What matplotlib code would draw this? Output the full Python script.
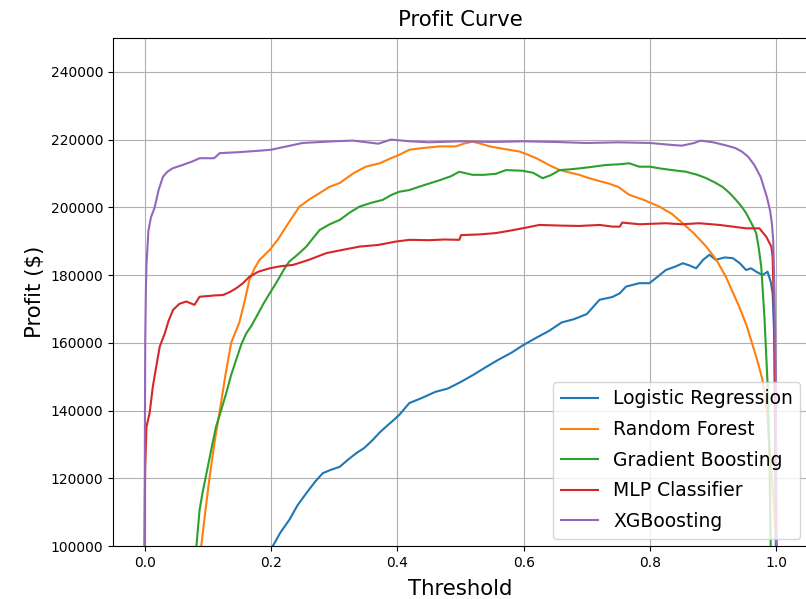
import matplotlib
matplotlib.use("Agg")
import matplotlib.pyplot as plt

# Logistic Regression
lr_x = [0.203, 0.215, 0.229, 0.242, 0.256, 0.27, 0.282, 0.295, 0.309, 0.322, 0.335, 0.348, 0.361, 0.372, 0.382, 0.393, 0.403, 0.419,
        0.44, 0.46, 0.48, 0.5, 0.52, 0.54, 0.56, 0.58, 0.6, 0.62, 0.64, 0.66, 0.68, 0.7, 0.72, 0.74, 0.752, 0.762,
        0.783, 0.799, 0.812, 0.825, 0.84, 0.852, 0.863, 0.873, 0.884, 0.894, 0.904, 0.918, 0.931, 0.942, 0.952, 0.96,
        0.968, 0.978, 0.986, 0.991, 0.994, 0.997, 0.999]
lr_y = [100000, 104000, 107700, 112000, 115600, 119000, 121500, 122500, 123400, 125500, 127400, 129000, 131300, 133500, 135200, 137000, 138700, 142200,
        143800, 145500, 146500, 148400, 150500, 152800, 155000, 157000, 159400, 161500, 163500, 166000, 167000, 168500, 172700, 173500, 174600, 176600,
        177600, 177600, 179500, 181500, 182500, 183500, 182800, 182000, 184500, 186000, 184500, 185200, 185000, 183500, 181500, 182000,
        181000, 180000, 181000, 178000, 174600, 160000, 100000]

# Random Forest
rf_x = [0.0897, 0.096, 0.103, 0.111, 0.119, 0.128, 0.137, 0.150, 0.158, 0.166, 0.174, 0.182, 0.198, 0.211, 0.224, 0.245, 0.262, 0.277, 0.292,
        0.309, 0.33, 0.35, 0.372, 0.39, 0.403, 0.419, 0.44, 0.467, 0.493, 0.505, 0.519, 0.532, 0.546, 0.57, 0.593, 0.607, 0.62,
        0.64, 0.657, 0.672, 0.688, 0.702, 0.715, 0.735, 0.75, 0.767, 0.79, 0.815, 0.835, 0.851, 0.87, 0.889, 0.905, 0.92,
        0.941, 0.953, 0.963, 0.971, 0.978, 0.985, 0.993, 1.0]
rf_y = [100000, 110000, 120500, 131000, 140000, 150500, 160000, 166000, 172000, 178600, 182000, 184500, 187400, 190500, 194300, 200200, 202500, 204200, 206000,
        207200, 210000, 212000, 213000, 214500, 215500, 217000, 217500, 218000, 218000, 218800, 219400, 218800, 218000, 217200, 216500, 215500, 214500,
        212500, 211000, 210300, 209600, 208700, 208000, 207000, 206000, 203700, 202200, 200200, 198000, 195400, 192200, 188400, 184500, 179500,
        170700, 165000, 158900, 154000, 149000, 140000, 120000, 100000]

# Gradient Boosting
gb_x = [0.082, 0.087, 0.092, 0.098, 0.105, 0.113, 0.121, 0.129, 0.137, 0.145, 0.153, 0.161, 0.169, 0.177, 0.188, 0.198, 0.206, 0.214, 0.221, 0.229,
        0.242, 0.256, 0.267, 0.277, 0.293, 0.309, 0.325, 0.34, 0.358, 0.377, 0.39, 0.403, 0.419, 0.443, 0.467, 0.485, 0.498, 0.519,
        0.537, 0.556, 0.572, 0.598, 0.615, 0.63, 0.643, 0.657, 0.672, 0.688, 0.71, 0.73, 0.75, 0.767, 0.783, 0.8, 0.815, 0.835,
        0.857, 0.875, 0.889, 0.903, 0.915, 0.926, 0.936, 0.945, 0.952, 0.96, 0.968, 0.972, 0.976, 0.981, 0.986, 0.989, 0.991]
gb_y = [100000, 110600, 116000, 121500, 128000, 135200, 140000, 145000, 150500, 155000, 159500, 162800, 165000, 167700, 171500, 174600, 177000, 179500, 181800, 184000,
        186000, 188400, 191000, 193300, 195000, 196300, 198500, 200200, 201300, 202200, 203600, 204600, 205100, 206600, 208000, 209200, 210500, 209600,
        209600, 209900, 211000, 210800, 210200, 208600, 209500, 211000, 211200, 211500, 212000, 212500, 212700, 213000, 212000, 212000, 211500, 211000,
        210500, 209600, 208600, 207300, 206000, 204200, 202200, 200200, 198300, 195500, 192400, 188000, 182500, 167700, 148000, 125000, 100000]

# MLP Classifier
mlp_x = [0.0, 0.0005, 0.001, 0.003, 0.008, 0.013, 0.018, 0.024, 0.032, 0.038, 0.045, 0.055, 0.066, 0.079, 0.087, 0.1, 0.112, 0.124, 0.135,
         0.145, 0.155, 0.166, 0.18, 0.198, 0.215, 0.235, 0.26, 0.288, 0.315, 0.34, 0.37, 0.398, 0.419, 0.45, 0.475, 0.498, 0.501,
         0.53, 0.556, 0.575, 0.598, 0.625, 0.66, 0.688, 0.72, 0.741, 0.752, 0.756, 0.783, 0.825, 0.85, 0.878, 0.91, 0.952, 0.973,
         0.984, 0.992, 0.994, 0.996, 0.998, 1.0]
mlp_y = [100000, 115000, 123400, 135200, 139300, 147000, 152500, 158900, 162800, 166500, 169700, 171500, 172200, 171200, 173600, 173800, 174000, 174100, 175000,
         176100, 177500, 179500, 181000, 182000, 182600, 183000, 184500, 186500, 187500, 188400, 188900, 189900, 190400, 190300, 190500, 190400, 191800,
         192000, 192400, 193000, 193800, 194800, 194600, 194500, 194800, 194300, 194300, 195500, 195000, 195300, 195000, 195300, 194800, 193800, 193800,
         191300, 188400, 185400, 170000, 140000, 100000]

# XGBoosting
xgb_x = [0.0, 0.0005, 0.001, 0.002, 0.003, 0.006, 0.01, 0.016, 0.022, 0.029, 0.036, 0.044, 0.06, 0.075, 0.087, 0.11, 0.119, 0.15, 0.18, 0.2,
         0.225, 0.25, 0.28, 0.30, 0.33, 0.37, 0.39, 0.42, 0.45, 0.5, 0.55, 0.6, 0.65, 0.7, 0.75, 0.8, 0.83, 0.85, 0.87, 0.88,
         0.9, 0.92, 0.935, 0.945, 0.955, 0.965, 0.975, 0.98, 0.985, 0.99, 0.993, 0.995, 0.997, 0.999, 1.0]
xgb_y = [100000, 135000, 160000, 175000, 183000, 193000, 197000, 200000, 205000, 209000, 210500, 211500, 212500, 213500, 214500, 214500, 216000, 216300, 216700, 217000,
         218000, 219000, 219300, 219500, 219700, 218800, 220000, 219500, 219200, 219500, 219300, 219500, 219300, 219000, 219200, 219000, 218500, 218200, 219000, 219700,
         219200, 218300, 217500, 216500, 215000, 212500, 209000, 206000, 203000, 199000, 195000, 190000, 175000, 150000, 100000]

series = [
    ("Logistic Regression", lr_x, lr_y),
    ("Random Forest", rf_x, rf_y),
    ("Gradient Boosting", gb_x, gb_y),
    ("MLP Classifier", mlp_x, mlp_y),
    ("XGBoosting", xgb_x, xgb_y),
]

fig = plt.figure(figsize=(8.06, 5.99), dpi=100)
ax = fig.add_axes([113/806, 53/599, 695/806, 508/599])
for name, xs, ys in series:
    ax.plot(xs, ys, label=name, linewidth=1.5)

ax.set_xlim(-0.05, 1.05)
ax.set_ylim(100000, 250000)
ax.set_xticks([0.0, 0.2, 0.4, 0.6, 0.8, 1.0])
ax.set_yticks([100000, 120000, 140000, 160000, 180000, 200000, 220000, 240000])
ax.tick_params(labelsize=10)
ax.grid(True, color="#b0b0b0", linewidth=0.8)
ax.set_title("Profit Curve", fontsize=15.3, pad=9)
ax.set_xlabel("Threshold", fontsize=15.3, labelpad=7)
ax.set_ylabel("Profit ($)", fontsize=15.3)
ax.legend(loc="lower right", fontsize=13.5, borderaxespad=0.4, labelspacing=0.62)

fig.savefig("out.png", dpi=100)
